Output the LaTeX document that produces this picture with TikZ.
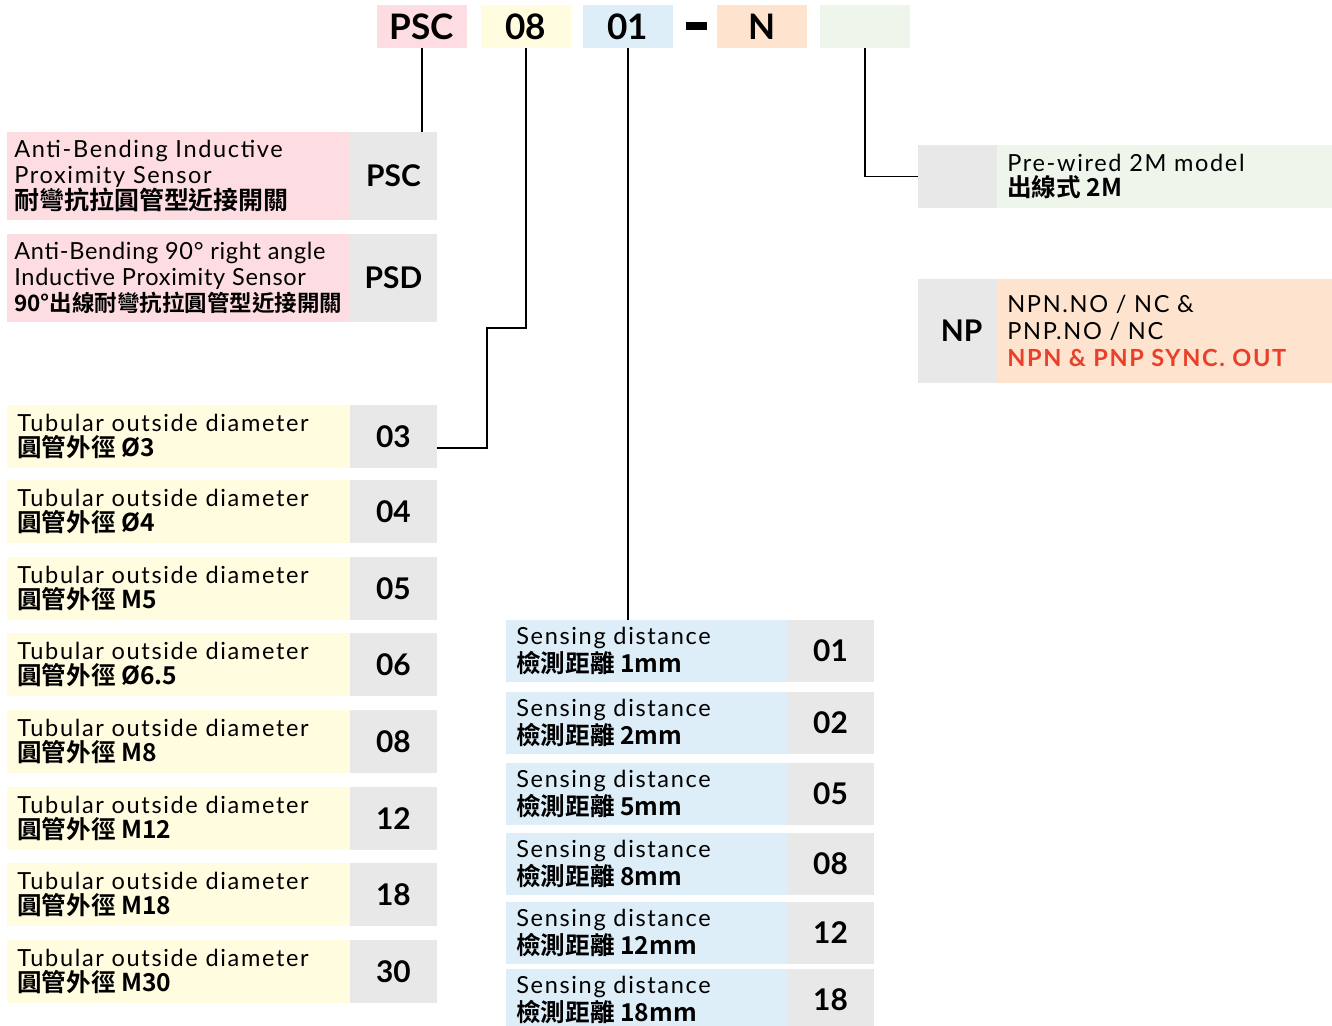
\documentclass[tikz,border=0pt]{standalone}
\usepackage{fontspec}
\setmainfont{Lato}[LetterSpace=7]
\newfontfamily\codefont{Lato}
\newfontfamily\tightfont{Lato}[LetterSpace=3]
\newfontfamily\cjkfont{Noto Sans CJK TC Bold}
\usetikzlibrary{positioning}

\definecolor{pinkbg}{HTML}{FDDDE1}
\definecolor{yellowbg}{HTML}{FFFCE0}
\definecolor{bluebg}{HTML}{DDEEF8}
\definecolor{orangebg}{HTML}{FEE3CE}
\definecolor{greenbg}{HTML}{EEF5EB}
\definecolor{graybg}{HTML}{E8E8E8}
\definecolor{redtxt}{HTML}{E8402B}

\newcommand{\cjkline}[1]{{\cjkfont\fontsize{14}{14.4}\selectfont #1}}

\tikzset{
    box/.style={anchor=north west, inner sep=0pt, outer sep=0pt},
    topcode/.style={box, minimum width=1.8cm, minimum height=0.86cm, font=\codefont\fontsize{20}{24}\selectfont\bfseries},
    tubebox/.style={box, fill=yellowbg, minimum width=6.86cm, minimum height=1.26cm},
    sensebox/.style={box, fill=bluebg, minimum width=5.62cm, minimum height=1.24cm},
    codebox/.style={box, fill=graybg, minimum width=1.74cm, minimum height=1.26cm, font=\codefont\fontsize{17}{20}\selectfont\bfseries},
    sensecode/.style={codebox, minimum height=1.24cm},
    desc/.style={anchor=west, inner sep=0pt, align=left, font=\fontsize{13.4}{14.4}\selectfont},
    link/.style={line width=0.8pt}
}

\begin{document}
\begin{tikzpicture}[x=0.02cm, y=-0.02cm]
        \clip (0, 0) rectangle (1332, 1026);

        %%model code on top
        \node[topcode, fill=pinkbg] (tPSC) at (377, 5){PSC};
        \node[topcode, fill=yellowbg] (t08) at (481, 5){08};
        \node[topcode, fill=bluebg] (t01) at (583, 5){01};
        \node[fill=black, inner sep=0pt, minimum width=0.42cm, minimum height=0.16cm] (dash) at (696, 26){};
        \node[topcode, fill=orangebg] (tN) at (717, 5){N};
        \node[topcode, fill=greenbg] (tX) at (820, 5){};

        %%sensor type
        \node[box, fill=pinkbg, minimum width=6.86cm, minimum height=1.76cm] (dPSC) at (7, 132){};
        \node[codebox, minimum height=1.76cm] (kPSC) at (350, 132){PSC};
            \node[desc, font=\fontsize{13.4}{14.8}\selectfont] (lPSC) at ([xshift=0.14cm]dPSC.west){Anti-Bending Inductive\\Proximity Sensor\\{\cjkfont\fontsize{14.2}{14.8}\selectfont 耐彎抗拉圓管型近接開關}};
        \node[box, fill=pinkbg, minimum width=6.86cm, minimum height=1.76cm] (dPSD) at (7, 234){};
        \node[codebox, minimum height=1.76cm] (kPSD) at (350, 234){PSD};
            \node[desc, font=\tightfont\fontsize{13.4}{14.8}\selectfont] (lPSD) at ([xshift=0.14cm]dPSD.west){Anti-Bending 90° right angle\\Inductive Proximity Sensor\\{\cjkfont\fontsize{12.8}{14.8}\selectfont 90°出線耐彎抗拉圓管型近接開關}};

        %%tubular outside diameter
        \node[tubebox] (d03) at (7, 405){};
        \node[codebox] (k03) at (350, 405){03};
            \node[desc] (l03) at ([xshift=0.2cm]d03.west){Tubular outside diameter\\\cjkline{圓管外徑 Ø3}};
        \node[tubebox] (d04) at (7, 480){};
        \node[codebox] (k04) at (350, 480){04};
            \node[desc] (l04) at ([xshift=0.2cm]d04.west){Tubular outside diameter\\\cjkline{圓管外徑 Ø4}};
        \node[tubebox] (d05) at (7, 557){};
        \node[codebox] (k05) at (350, 557){05};
            \node[desc] (l05) at ([xshift=0.2cm]d05.west){Tubular outside diameter\\\cjkline{圓管外徑 M5}};
        \node[tubebox] (d06) at (7, 633){};
        \node[codebox] (k06) at (350, 633){06};
            \node[desc] (l06) at ([xshift=0.2cm]d06.west){Tubular outside diameter\\\cjkline{圓管外徑 Ø6.5}};
        \node[tubebox] (d08) at (7, 710){};
        \node[codebox] (k08) at (350, 710){08};
            \node[desc] (l08) at ([xshift=0.2cm]d08.west){Tubular outside diameter\\\cjkline{圓管外徑 M8}};
        \node[tubebox] (d12) at (7, 787){};
        \node[codebox] (k12) at (350, 787){12};
            \node[desc] (l12) at ([xshift=0.2cm]d12.west){Tubular outside diameter\\\cjkline{圓管外徑 M12}};
        \node[tubebox] (d18) at (7, 863){};
        \node[codebox] (k18) at (350, 863){18};
            \node[desc] (l18) at ([xshift=0.2cm]d18.west){Tubular outside diameter\\\cjkline{圓管外徑 M18}};
        \node[tubebox] (d30) at (7, 940){};
        \node[codebox] (k30) at (350, 940){30};
            \node[desc] (l30) at ([xshift=0.2cm]d30.west){Tubular outside diameter\\\cjkline{圓管外徑 M30}};

        %%sensing distance
        \node[sensebox] (s01) at (506, 620){};
        \node[sensecode] (c01) at (787, 620){01};
            \node[desc] (m01) at ([xshift=0.2cm]s01.west){Sensing distance\\\cjkline{檢測距離 1mm}};
        \node[sensebox] (s02) at (506, 692){};
        \node[sensecode] (c02) at (787, 692){02};
            \node[desc] (m02) at ([xshift=0.2cm]s02.west){Sensing distance\\\cjkline{檢測距離 2mm}};
        \node[sensebox] (s05) at (506, 763){};
        \node[sensecode] (c05) at (787, 763){05};
            \node[desc] (m05) at ([xshift=0.2cm]s05.west){Sensing distance\\\cjkline{檢測距離 5mm}};
        \node[sensebox] (s08) at (506, 833){};
        \node[sensecode] (c08) at (787, 833){08};
            \node[desc] (m08) at ([xshift=0.2cm]s08.west){Sensing distance\\\cjkline{檢測距離 8mm}};
        \node[sensebox] (s12) at (506, 902){};
        \node[sensecode] (c12) at (787, 902){12};
            \node[desc] (m12) at ([xshift=0.2cm]s12.west){Sensing distance\\\cjkline{檢測距離 12mm}};
        \node[sensebox] (s18) at (506, 969){};
        \node[sensecode] (c18) at (787, 969){18};
            \node[desc] (m18) at ([xshift=0.2cm]s18.west){Sensing distance\\\cjkline{檢測距離 18mm}};

        %%wiring and output
        \node[codebox] (kW) at (918, 145){};
        \node[box, fill=greenbg, minimum width=6.7cm, minimum height=1.26cm] (dW) at (997, 145){};
            \node[desc] (lW) at ([xshift=0.2cm]dW.west){Pre-wired 2M model\\\cjkline{出線式 2M}};
        \node[codebox, minimum height=2.08cm] (kNP) at (918, 279){NP};
        \node[box, fill=orangebg, minimum width=6.7cm, minimum height=2.08cm] (dNP) at (997, 279){};
            \node[desc, font=\fontsize{13.4}{15.2}\selectfont] (lNP) at ([xshift=0.2cm]dNP.west){NPN.NO / NC \&\\PNP.NO / NC\\{\bfseries\color{redtxt}NPN \& PNP SYNC. OUT}};

        %%draw the lines
        \coordinate (j08a) at (487, 328);
        \coordinate (j08b) at (487, 448);
        \draw[link] (tPSC.south) to (tPSC.south |- kPSC.north);
        \draw[link] (t08.south) |- (j08a) to (j08b) to (j08b -| k03.east);
        \draw[link] (t01.south) to (t01.south |- s01.north);
        \draw[link] (tX.south) |- (kW.west);

    \end{tikzpicture}
\end{document}
